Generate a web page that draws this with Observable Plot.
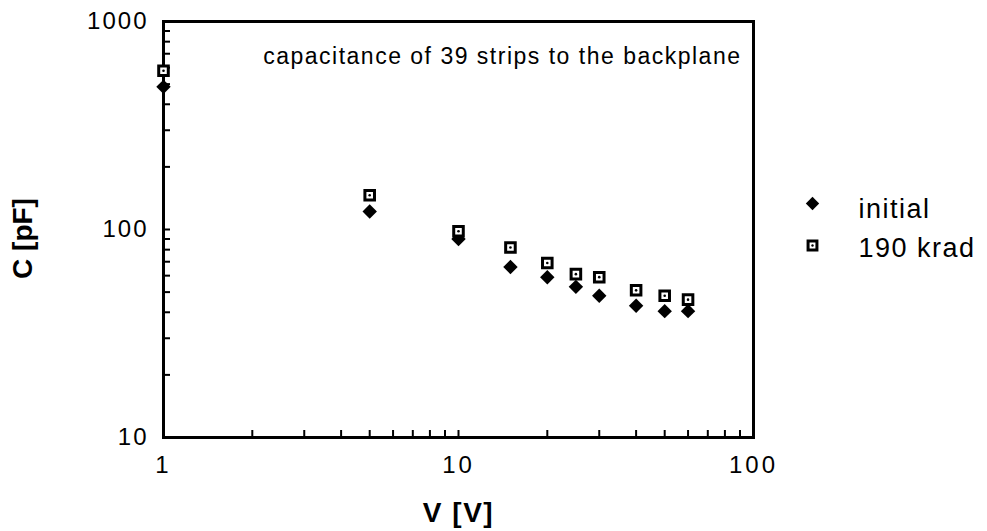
<!DOCTYPE html>
<html>
<head>
<meta charset="utf-8">
<script src="https://cdn.jsdelivr.net/npm/d3@7"></script>
<script src="https://cdn.jsdelivr.net/npm/@observablehq/plot@0.6"></script>
<style>
  html, body { margin: 0; padding: 0; background: #fff; }
  g[aria-label="x-axis tick label"] text { letter-spacing: 3px; }
  g[aria-label="y-axis tick label"] text { letter-spacing: 2px; }
</style>
</head>
<body>
<div id="chart"></div>
<script>
// ---- data ----
const voltage   = [1, 5, 10, 15, 20, 25, 30, 40, 50, 60];
const cInitial  = [485, 122, 90, 66, 59, 53, 48, 43, 40.5, 40.5];
const c190krad  = [580, 146, 98, 82, 69, 61, 59, 51, 48, 46];
const seriesNames = ["initial", "190 krad"];
const xTickLabels = [1, 10, 100];
const yTickLabels = [10, 100, 1000];
const annotation = "capacitance of 39 strips to the backplane";
const xLabel = "V [V]";
const yLabel = "C [pF]";

const rows = voltage.map((v, i) => ({V: v, initial: cInitial[i], krad: c190krad[i]}));
const xDomain = [1, 100];
const yDomain = [10, 1000];
const xMinor = d3.scaleLog().domain(xDomain).ticks();
const yMinor = d3.scaleLog().domain(yDomain).ticks();

const font = "'Liberation Sans', Arial, Helvetica, sans-serif";

const chart = Plot.plot({
  width: 987,
  height: 531,
  marginLeft: 163,
  marginRight: 234,
  marginTop: 21,
  marginBottom: 94,
  style: {fontFamily: font, background: "white", color: "black"},
  x: {type: "log", domain: xDomain},
  y: {type: "log", domain: yDomain},
  marks: [
    // inward minor/major ticks
    Plot.axisX(xMinor, {tickSize: 7, dy: -7, text: null, label: null, strokeWidth: 2}),
    Plot.axisY(yMinor, {tickSize: 7, dx: 7, text: null, label: null, strokeWidth: 2}),
    // tick labels
    Plot.axisX(xTickLabels, {tickSize: 0, tickPadding: 18, tickFormat: d => String(d), fontSize: 24, label: null}),
    Plot.axisY(yTickLabels, {tickSize: 0, tickPadding: 15, tickFormat: d => String(d), fontSize: 24, label: null}),
    Plot.frame({stroke: "black", strokeWidth: 3}),
    // data
    Plot.dot(rows, {x: "V", y: "initial", symbol: "diamond2", r: 6.5, fill: "black"}),
    Plot.dot(rows, {x: "V", y: "krad", symbol: "square", r: 5.4, fill: "white", stroke: "black", strokeWidth: 3}),
    Plot.dot(rows, {x: "V", y: "krad", r: 1.3, fill: "black"}),
    // annotation
    Plot.text([annotation], {text: d => d, frameAnchor: "top-right", textAnchor: "end", lineAnchor: "middle", dx: -12, dy: 35, fontSize: 23, fill: "black"}),
    // axis labels
    Plot.text([yLabel], {text: d => d, frameAnchor: "left", textAnchor: "middle", lineAnchor: "middle", rotate: -90, dx: -140, dy: 9, fontSize: 28, fontWeight: "bold", fill: "black"}),
    Plot.text([xLabel], {text: d => d, frameAnchor: "bottom", textAnchor: "middle", lineAnchor: "middle", dy: 76, fontSize: 28, fontWeight: "bold", fill: "black"}),
    // legend
    Plot.dot([seriesNames[0]], {frameAnchor: "right", dx: 59, dy: -26, symbol: "diamond2", r: 6, fill: "black"}),
    Plot.dot([seriesNames[1]], {frameAnchor: "right", dx: 59, dy: 16, symbol: "square", r: 5, fill: "white", stroke: "black", strokeWidth: 3}),
    Plot.dot([seriesNames[1]], {frameAnchor: "right", dx: 59, dy: 16, r: 1.2, fill: "black"}),
    Plot.text([seriesNames[0]], {text: d => d, frameAnchor: "right", textAnchor: "start", lineAnchor: "middle", dx: 105, dy: -20, fontSize: 27, fill: "black"}),
    Plot.text([seriesNames[1]], {text: d => d, frameAnchor: "right", textAnchor: "start", lineAnchor: "middle", dx: 105, dy: 19, fontSize: 27, fill: "black"})
  ]
});
// letter spacing to mimic the wide spacing of the original typeface
const spacing = new Map([[annotation, "1.5px"], [seriesNames[0], "1.5px"], [seriesNames[1], "1.5px"], [xLabel, "1.5px"]]);
d3.select(chart).selectAll("text").each(function() {
  const s = spacing.get(this.textContent);
  if (s) this.style.letterSpacing = s;
});
document.getElementById("chart").appendChild(chart);
</script>
</body>
</html>
